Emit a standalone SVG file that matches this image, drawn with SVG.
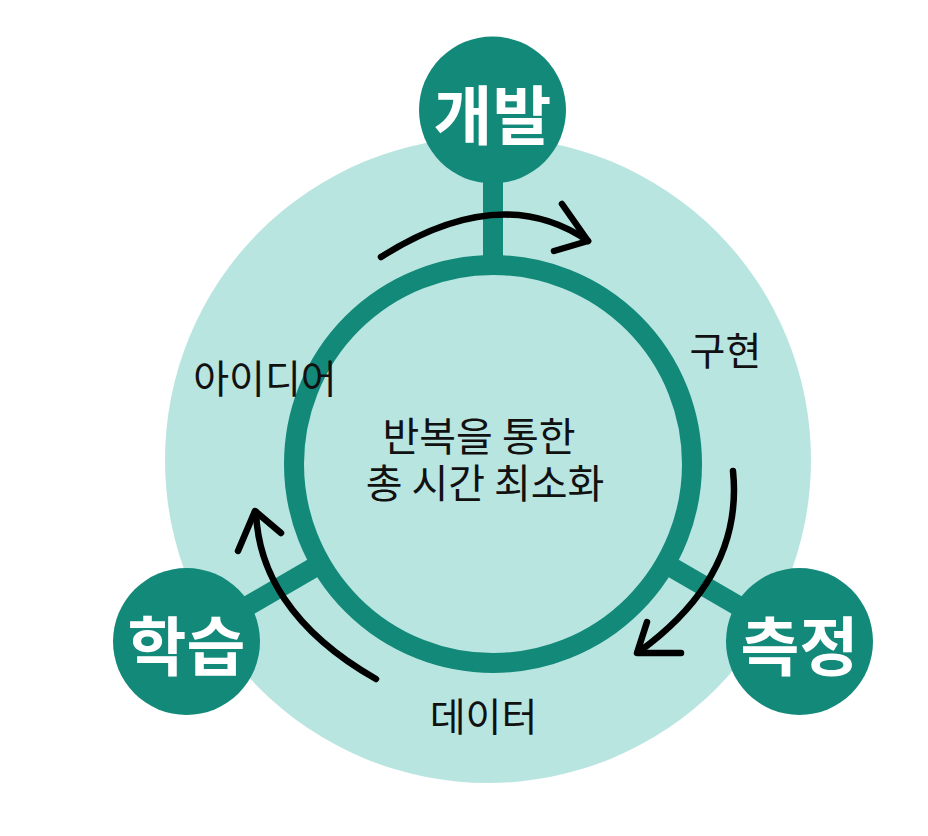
<svg xmlns="http://www.w3.org/2000/svg" width="928" height="836" viewBox="0 0 928 836">
<style>
.dark{fill:#13897a}
.spoke{stroke:#13897a;stroke-width:20;fill:none}
.arrow{stroke:#000;stroke-width:6.5;fill:none;stroke-linecap:round;stroke-linejoin:round}
.lbl{font-family:"Noto Sans CJK KR",sans-serif;font-size:39px;fill:#111;text-anchor:middle}
.hubt{font-family:"Noto Sans CJK KR",sans-serif;font-size:40px;fill:#111;text-anchor:middle}
.node{font-family:"Noto Sans CJK KR",sans-serif;font-size:64px;font-weight:700;fill:#fff;text-anchor:middle}
</style>
<rect width="928" height="836" fill="#fff"/>
<circle id="background" cx="488" cy="460" r="323" fill="#b8e5e0"/>
<g id="connectors">
<line class="spoke" x1="493" y1="110" x2="493" y2="265"/>
<line class="spoke" x1="186.5" y1="641.5" x2="320" y2="564"/>
<line class="spoke" x1="799.5" y1="641.5" x2="666" y2="564"/>
<circle class="spoke" cx="493" cy="464" r="199"/>
</g>
<g id="hub">
<text class="hubt" x="479" y="451">반복을 통한</text>
<text class="hubt" x="485" y="498">총 시간 최소화</text>
</g>
<g id="node-dev">
<circle class="dark" cx="492.5" cy="110" r="73.5"/>
<text class="node" x="492.5" y="139">개발</text>
</g>
<g id="node-learn">
<circle class="dark" cx="186.5" cy="641.5" r="73.5"/>
<text class="node" x="186.5" y="670">학습</text>
</g>
<g id="node-measure">
<circle class="dark" cx="799.5" cy="641.5" r="73.5"/>
<text class="node" x="799.5" y="670">측정</text>
</g>
<g id="arrows">
<path class="arrow" d="M381,257 Q501,181 588,241"/>
<path class="arrow" d="M562,204 L588,241 L554,251"/>
<path class="arrow" d="M733,471 C740,540 710,600 640,651"/>
<path class="arrow" d="M647,622 L637,653 L681,653"/>
<path class="arrow" d="M376,679 C290,630 258,570 256,512"/>
<path class="arrow" d="M238,551 L255,511 L281,533"/>
</g>
<g id="labels">
<text class="lbl" x="265" y="393">아이디어</text>
<text class="lbl" x="725.5" y="365">구현</text>
<text class="lbl" x="483.5" y="731">데이터</text>
</g>
</svg>
